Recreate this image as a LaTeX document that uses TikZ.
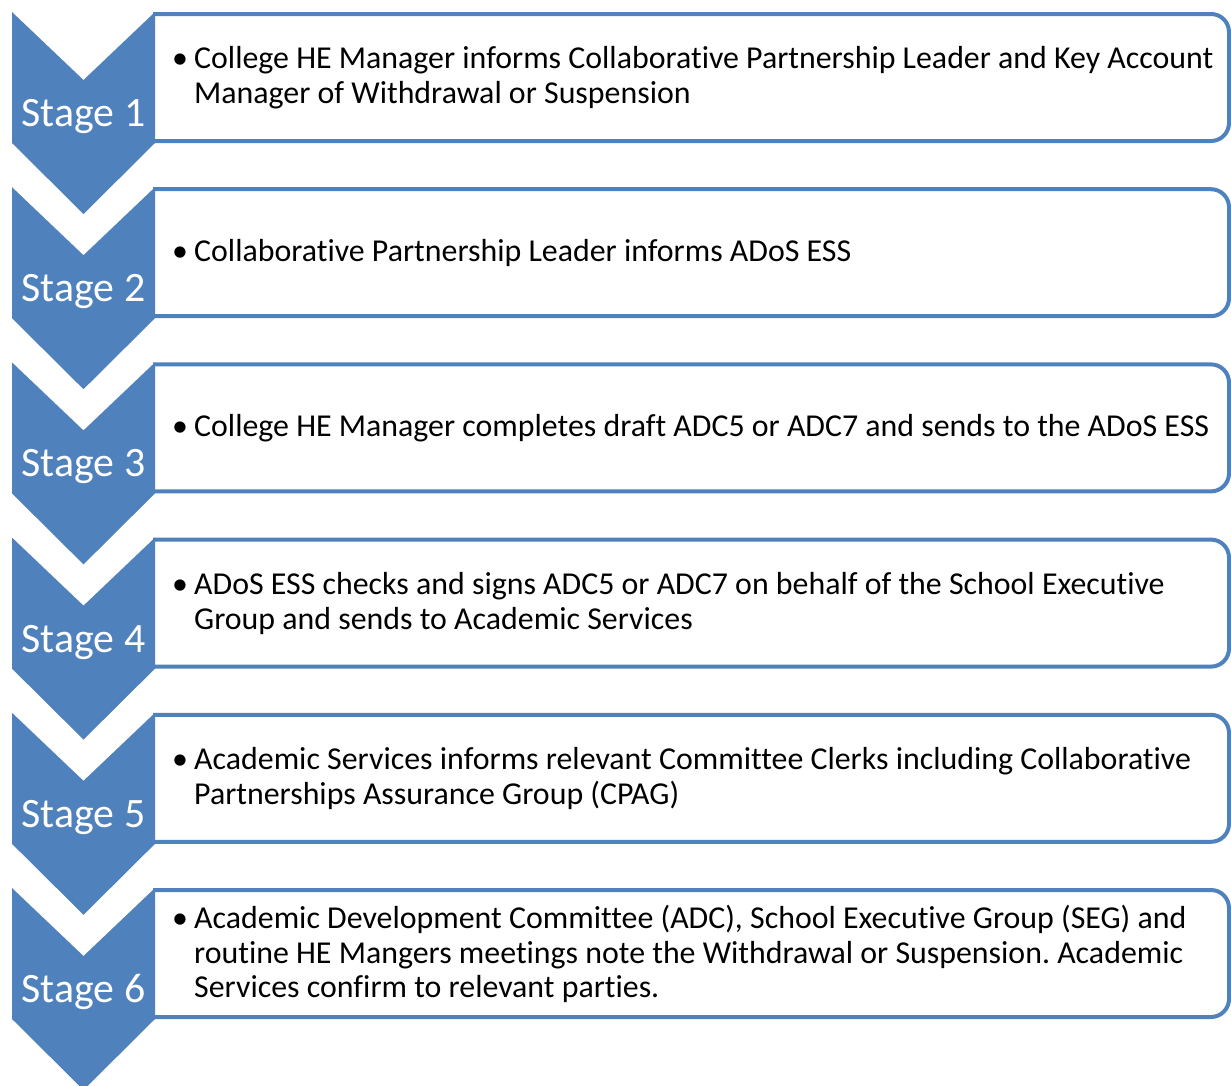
\documentclass[tikz,border=0pt]{standalone}
\usepackage{fontspec}
\setmainfont{Carlito}[Ligatures={NoCommon}]
\frenchspacing
\definecolor{stageblue}{HTML}{4F81BD}

\begin{document}
\begin{tikzpicture}[x=1bp, y=-1bp,
	stagelbl/.style={text=white, anchor=base, inner sep=0pt, font=\fontsize{42}{50}\selectfont},
	boxtxt/.style={anchor=west, inner sep=0pt, font=\fontsize{32}{35}\selectfont},
	boxline/.style={draw=stageblue, line width=4bp, fill=white, rounded corners=18bp}]
	\useasboundingbox (0,0) rectangle (1231,1086);
	\foreach \i/\txt in {
		1/{College HE Manager informs Collaborative Partnership Leader and Key Account\\Manager of Withdrawal or Suspension},
		2/{Collaborative Partnership Leader informs ADoS ESS},
		3/{College HE Manager completes draft ADC5 or ADC7 and sends to the ADoS ESS},
		4/{ADoS ESS checks and signs ADC5 or ADC7 on behalf of the School Executive\\Group and sends to Academic Services},
		5/{Academic Services informs relevant Committee Clerks including Collaborative\\Partnerships Assurance Group (CPAG)},
		6/{Academic Development Committee (ADC), School Executive Group (SEG) and\\routine HE Mangers meetings note the Withdrawal or Suspension. Academic\\Services confirm to relevant parties.}} {
		\pgfmathsetmacro{\t}{12+175.2*(\i-1)}
		% text box, left end hidden behind the chevron
		\begin{scope}
			\clip (153,\t-10) rectangle (1240,\t+140);
			\draw[boxline] (110,\t+2) rectangle (1229,\t+129);
		\end{scope}
		% chevron
		\fill[stageblue] (12,\t) -- (83.5,\t+68) -- (155,\t) -- (155,\t+131) -- (83.5,\t+202) -- (12,\t+131) -- cycle;
		\node[stagelbl] (stg\i) at (83.5,\t+114.5) {Stage \i};
		\node[boxtxt] (txt\i) at (172,\t+66) {\makebox[22bp][l]{\textbullet}\parbox[t]{1040bp}{\raggedright\txt}};
	}
\end{tikzpicture}
\end{document}
